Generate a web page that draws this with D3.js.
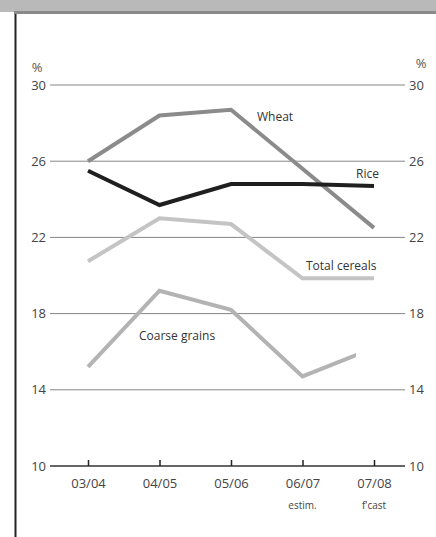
<!DOCTYPE html>
<html><head><meta charset="utf-8">
<script src="https://cdn.jsdelivr.net/npm/d3@7"></script>
<style>body{margin:0;background:#fff}svg{display:block;font-family:"Open Sans",sans-serif}</style>
</head><body><svg id="c" width="436" height="537"></svg>
<script>
const categories = ["03/04","04/05","05/06","06/07","07/08"];
const subLabels = ["","","","estim.","f'cast"];
const yTicks = [10,14,18,22,26,30];
const wheat = [26.0,28.4,28.7,25.6,22.5];
const rice = [25.5,23.7,24.8,24.8,24.7];
const totalCereals = [20.75,23.0,22.7,19.85,19.85];
const coarseGrains = [15.2,19.2,18.2,14.7,16.2];
const seriesNames = ["Wheat","Rice","Total cereals","Coarse grains"];

const svg = d3.select("#c");
svg.append("rect").attr("x",0).attr("y",0).attr("width",436).attr("height",12).attr("fill","#b9b9b9");
svg.append("rect").attr("x",14).attr("y",11).attr("width",422).attr("height",3).attr("fill","#8a8a8a");
svg.append("line").attr("x1",15.5).attr("x2",15.5).attr("y1",14).attr("y2",537).attr("stroke","#222").attr("stroke-width",2);

const x = d3.scalePoint().domain(categories).range([88,374]);
const y = d3.scaleLinear().domain([10,30]).range([466,85]);

svg.append("defs").append("clipPath").attr("id","cgclip")
  .append("rect").attr("x",0).attr("y",0).attr("width",356).attr("height",537);

const grid = svg.append("g");
yTicks.filter(t=>t>10).forEach(t=>{
  grid.append("line").attr("x1",50).attr("x2",405).attr("y1",y(t)).attr("y2",y(t))
    .attr("stroke","#858585").attr("stroke-width",1);
});
const left = svg.append("g").attr("transform","translate(46,0)")
  .call(d3.axisLeft(y).tickValues(yTicks).tickSize(0).tickPadding(0).tickFormat(d3.format("d")));
left.select(".domain").remove();
left.selectAll("text").attr("font-size",13).attr("fill","#444").attr("font-family","Open Sans, sans-serif");
const right = svg.append("g").attr("transform","translate(409,0)")
  .call(d3.axisRight(y).tickValues(yTicks).tickSize(0).tickPadding(0).tickFormat(d3.format("d")));
right.select(".domain").remove();
right.selectAll("text").attr("font-size",13).attr("fill","#444").attr("font-family","Open Sans, sans-serif");
svg.append("text").attr("x",37).attr("y",72).attr("font-size",13).attr("fill","#555").attr("text-anchor","middle").text("%");
svg.append("text").attr("x",421).attr("y",68).attr("font-size",13).attr("fill","#555").attr("text-anchor","middle").text("%");

const bottom = svg.append("g").attr("transform",`translate(0,${y(10)})`)
  .call(d3.axisBottom(x).tickSize(-6).tickPadding(13));
bottom.select(".domain").attr("d","M50,0H405").attr("stroke","#333").attr("stroke-width",1.5);
bottom.selectAll(".tick line").attr("stroke","#222").attr("stroke-width",1.5);
bottom.selectAll(".tick text").attr("font-size",13).attr("fill","#444").attr("font-family","Open Sans, sans-serif");
svg.selectAll(".sub").data(categories).join("text").attr("class","sub")
  .attr("x",d=>x(d)).attr("y",509).attr("text-anchor","middle").attr("font-size",10).attr("fill","#444")
  .text((d,i)=>subLabels[i]);

const line = d3.line().x((d,i)=>x(categories[i])).y(d=>y(d));
const series = [
  {name:"Wheat", v:wheat, color:"#8b8b8b"},
  {name:"Total cereals", v:totalCereals, color:"#c4c4c4"},
  {name:"Coarse grains", v:coarseGrains, color:"#b3b3b3", clip:true},
  {name:"Rice", v:rice, color:"#1f1f1f"}
];
series.forEach(s=>{
  const p = svg.append("path").attr("d",line(s.v)).attr("fill","none").attr("stroke",s.color)
    .attr("stroke-width",4).attr("stroke-linejoin","miter");
  if (s.clip) p.attr("clip-path","url(#cgclip)");
});
const labels = [
  {t:seriesNames[0], x:257, y:121},
  {t:seriesNames[1], x:356, y:178},
  {t:seriesNames[2], x:306, y:270},
  {t:seriesNames[3], x:139, y:340}
];
labels.forEach(l=>svg.append("text").attr("x",l.x).attr("y",l.y).attr("font-size",12).attr("fill","#333").text(l.t));
</script></body></html>
